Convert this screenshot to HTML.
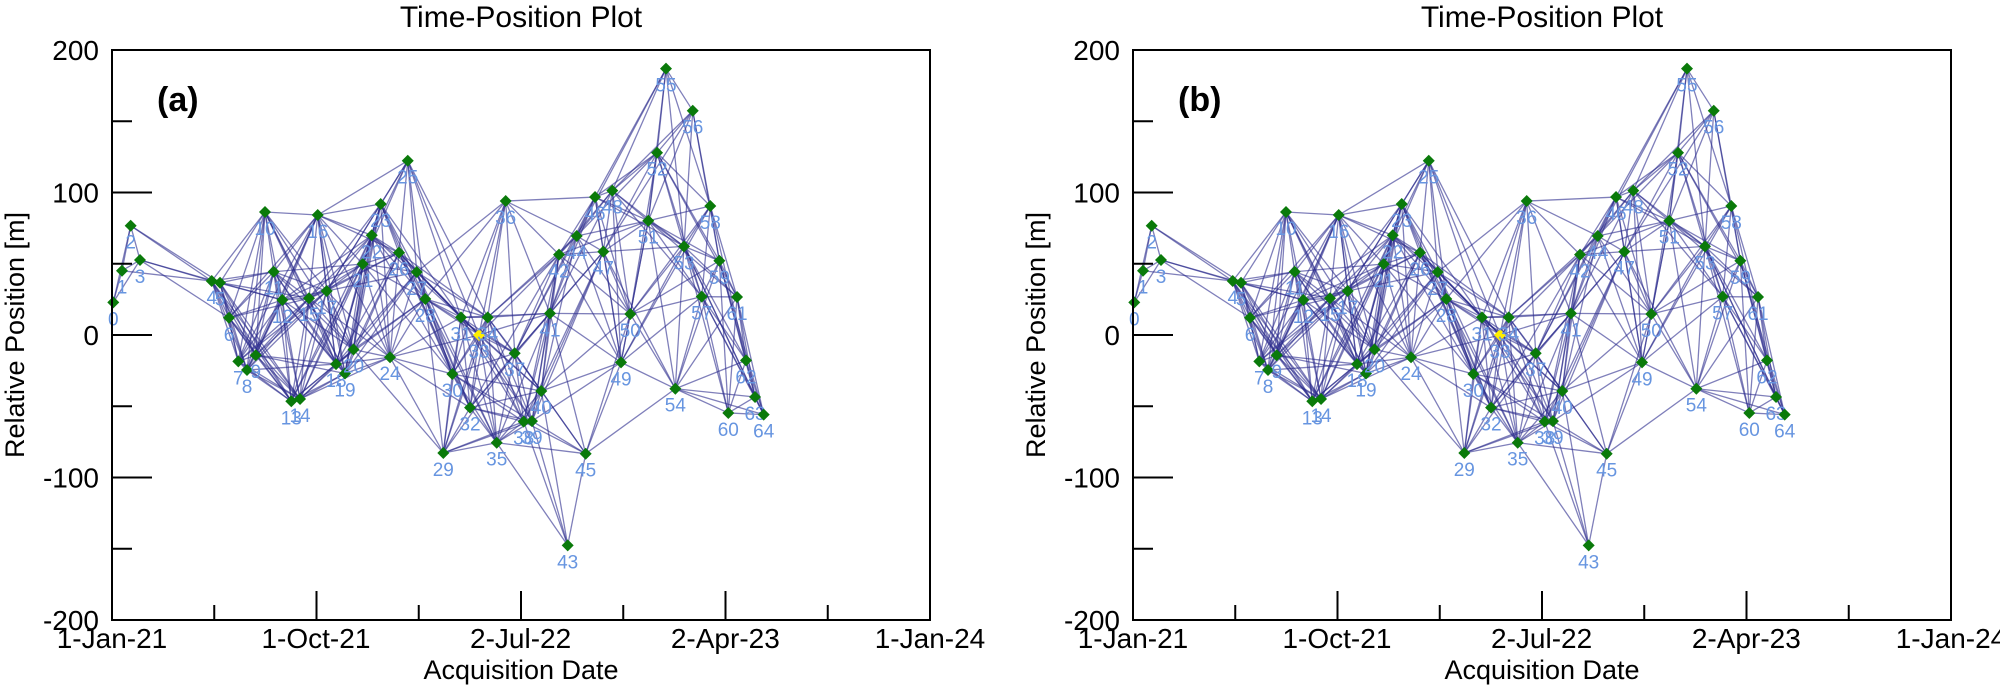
<!DOCTYPE html>
<html><head><meta charset="utf-8"><style>
html,body{margin:0;padding:0;background:#fff;}
svg{display:block;font-family:"Liberation Sans",sans-serif;}
</style></head><body>
<svg id="chart" width="2000" height="686" viewBox="0 0 2000 686" xmlns="http://www.w3.org/2000/svg"></svg>
<script>
const days=[1.7,13.4,25.0,37.5,133.5,144.6,156.6,169.1,180.7,192.4,204.8,216.5,228.0,240.0,251.7,263.7,275.4,287.4,299.9,311.9,323.3,335.6,347.7,359.7,372.2,395.9,384.2,407.9,419.4,443.5,455.6,467.2,479.3,491.3,502.9,515.0,527.0,539.1,551.1,562.2,574.7,586.3,598.4,610.0,622.1,634.1,646.6,657.7,669.7,681.4,693.8,717.9,729.6,765.7,754.1,741.6,777.4,789.4,800.9,813.0,825.0,836.7,848.7,860.8,872.4];
const positions=[22.9,45.1,76.7,52.6,37.9,36.7,12.1,-18.5,-24.6,-14.2,86.3,44.4,24.6,-46.5,-44.9,25.8,84.2,30.9,-20.4,-27.0,-10.2,49.8,70.0,91.9,-15.6,122.3,57.8,44.2,25.3,-82.8,-27.4,12.4,-51.0,0,12.4,-75.6,94.0,-12.8,-60.8,-60.4,-39.3,15.2,56.4,-147.6,69.5,-83.3,96.8,58.5,101.3,-19.2,14.7,80.2,127.9,62.2,-37.7,186.9,157.4,26.9,90.5,52.1,-54.7,26.7,-17.8,-43.5,-55.9];
const refIndex=33;
const xTickLabels=["1-Jan-21","1-Oct-21","2-Jul-22","2-Apr-23","1-Jan-24"];
const xTickDays=[0,273,547,821,1095];
const yTickValues=[200,100,0,-100,-200];
const panelLabels=["(a)","(b)"];
const maxDayBaseline=130, maxPosBaseline=125;

const NS="http://www.w3.org/2000/svg";
const svg=document.getElementById('chart');
function mk(tag,attrs,parent){const e=document.createElementNS(NS,tag);for(const k in attrs)e.setAttribute(k,attrs[k]);(parent||svg).appendChild(e);return e;}

const panels=[{x0:112},{x0:1133}];
const W=818, Y0=50, Y1=620;
panels.forEach((p,pi)=>{
  const g=mk('g',{});
  
  
  const xs=d=>p.x0+d/1095*W;
  const ys=v=>Y0+(200-v)/400*(Y1-Y0);
  const t=mk('text',{x:p.x0+W/2,y:27,'text-anchor':'middle','font-size':30},g);t.textContent='Time-Position Plot';
  
  const eg=mk('g',{stroke:'#2a2a8c','stroke-opacity':0.6,'stroke-width':1.3},g);
  
  for(let i=0;i<days.length;i++)for(let j=i+1;j<days.length;j++){
    if(Math.abs(days[i]-days[j])<=maxDayBaseline&&Math.abs(positions[i]-positions[j])<=maxPosBaseline){
      const l=mk('line',{x1:xs(days[i]),y1:ys(positions[i]),x2:xs(days[j]),y2:ys(positions[j])},eg);
      
      
    }
  }
  for(let i=0;i<days.length;i++){
    const cx=xs(days[i]),cy=ys(positions[i]),r=6;
    const pt=mk('polygon',{points:`${cx},${cy-r} ${cx+r},${cy} ${cx},${cy+r} ${cx-r},${cy}`,fill:i===refIndex?'#ffee00':'#0a7a0a'},g);
    
    
    const lb=mk('text',{x:cx,y:cy+23,'text-anchor':'middle','font-size':19,fill:'#6795e0'},g);lb.textContent=i;
    
    
  }
  const fr=mk('rect',{x:p.x0,y:Y0,width:W,height:Y1-Y0,fill:'none',stroke:'#000','stroke-width':2},g);
  
  for(let v=-200;v<=200;v+=50){
    const major=v%100===0;
    const tk=mk('line',{x1:p.x0,x2:p.x0+(major?40:20),y1:ys(v),y2:ys(v),stroke:'#000','stroke-width':2},g);
    
  }
  yTickValues.forEach(v=>{
    const tl=mk('text',{x:p.x0-13,y:ys(v)+10,'text-anchor':'end','font-size':28},g);tl.textContent=v;
    
  });
  for(let k=0;k<=8;k++){
    const d=k*1095/8, major=k%2===0;
    const tk=mk('line',{x1:xs(d),x2:xs(d),y1:Y1,y2:Y1-(major?29:15),stroke:'#000','stroke-width':2},g);
    
  }
  xTickLabels.forEach((s,k)=>{
    const tl=mk('text',{x:xs(xTickDays[k]),y:648,'text-anchor':'middle','font-size':28},g);tl.textContent=s;
    
  });
  const xt=mk('text',{x:p.x0+W/2,y:679,'text-anchor':'middle','font-size':27},g);xt.textContent='Acquisition Date';
  
  const yt=mk('text',{x:0,y:0,'text-anchor':'middle','font-size':27,transform:`translate(${p.x0-88},335) rotate(-90)`},g);yt.textContent='Relative Position [m]';
  
  const pl=mk('text',{x:p.x0+45,y:111,'font-size':34,'font-weight':'bold'},g);pl.textContent=panelLabels[pi];
  
});
</script>
</body></html>
